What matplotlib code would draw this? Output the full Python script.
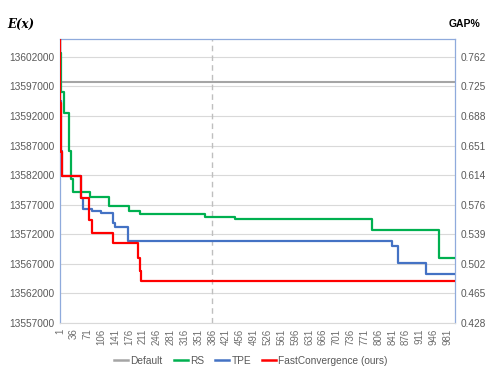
import matplotlib
matplotlib.use("Agg")
import matplotlib.pyplot as plt
from matplotlib.lines import Line2D

# ---- data ----
n_iter = 1000
default_value = 13597800

rs_iters = [1, 2, 4, 11, 24, 30, 35, 78, 124, 176, 203, 367, 444, 790, 960]
rs_vals = [13612000, 13602700, 13596000, 13592500, 13586100, 13581400, 13579100,
           13578270, 13576700, 13576000, 13575400, 13575000, 13574650, 13572750, 13568050]

tpe_iters = [1, 2, 4, 6, 53, 60, 82, 105, 136, 140, 172, 840, 857, 926]
tpe_vals = [13612000, 13594500, 13586000, 13581900, 13578150, 13576250, 13575950,
            13575650, 13573970, 13573200, 13570880, 13570080, 13567100, 13565300]

fc_iters = [1, 2, 4, 6, 53, 74, 82, 136, 198, 203, 207]
fc_vals = [13612000, 13594200, 13585900, 13581900, 13578150, 13574430, 13572280,
           13570480, 13567950, 13565850, 13564100]

y_ticks = [13557000, 13562000, 13567000, 13572000, 13577000, 13582000,
           13587000, 13592000, 13597000, 13602000]
gap_labels = ["0.428", "0.465", "0.502", "0.539", "0.576", "0.614",
              "0.651", "0.688", "0.725", "0.762"]
x_tick_labels = list(range(1, n_iter, 35))
marker_iter = 386

series_names = ["Default", "RS", "TPE", "FastConvergence (ours)"]
colors = ["#A5A5A5", "#00B050", "#4472C4", "#FF0000"]

# ---- figure ----
plt.rcParams['font.family'] = ['Liberation Sans', 'DejaVu Sans']
fig = plt.figure(figsize=(4.98, 3.74), dpi=100)
ax = fig.add_axes([60/498, 1-323/374, (455-60)/498, (323-39)/374])

ax.set_xlim(1, n_iter)
ax.set_ylim(13557000, 13605000)
ax.set_yticks(y_ticks)
ax.set_yticklabels([str(v) for v in y_ticks])
ax.grid(axis='y', color='#D9D9D9', lw=0.8)
ax.set_axisbelow(True)

ax.axvline(marker_iter, color='#BFBFBF', ls=(0, (4, 3)), lw=1.0, zorder=1)

ax.plot([1, n_iter], [default_value, default_value], color=colors[0], lw=1.5, zorder=2)

def ext(it, vals):
    return list(it) + [n_iter], list(vals) + [vals[-1]]

for it, vals, c, z in [(rs_iters, rs_vals, colors[1], 3),
                       (tpe_iters, tpe_vals, colors[2], 4),
                       (fc_iters, fc_vals, colors[3], 5)]:
    xs, ys = ext(it, vals)
    ax.step(xs, ys, where='post', color=c, lw=1.6, zorder=z)

ax.set_xticks(x_tick_labels)
ax.set_xticklabels([str(v) for v in x_tick_labels], rotation=90, fontsize=7, color='#6E6E6E')
ax.tick_params(axis='both', length=0)
ax.tick_params(axis='y', labelsize=7.3, labelcolor='#595959', pad=4)
ax.tick_params(axis='x', pad=4)

for s in ['left', 'top', 'right']:
    ax.spines[s].set_color('#8FAADC')
    ax.spines[s].set_linewidth(0.9)
ax.spines['bottom'].set_color('#D9D9D9')

ax2 = ax.twinx()
ax2.set_ylim(ax.get_ylim())
ax2.set_yticks(y_ticks)
ax2.set_yticklabels(gap_labels)
ax2.tick_params(axis='y', length=0, labelsize=7.3, labelcolor='#595959', pad=4)
for s in ax2.spines.values():
    s.set_visible(False)

fig.text(7/498, 1-24/374, 'E(x)', fontfamily='DejaVu Serif', fontweight='bold',
         fontstyle='italic', fontsize=8.5, va='center', ha='left')
fig.text(464/498, 1-24/374, 'GAP%', fontweight='bold', fontsize=7.5,
         va='center', ha='center')

handles = [Line2D([0], [0], color=c, lw=1.8) for c in colors]
leg = fig.legend(handles, series_names, loc='center', bbox_to_anchor=(251/498, 1-361/374),
                 ncol=4, frameon=False, fontsize=7.3, handlelength=1.4, handletextpad=0.2,
                 columnspacing=1.1)
for t in leg.get_texts():
    t.set_color('#595959')

fig.savefig('out.png', dpi=100)
